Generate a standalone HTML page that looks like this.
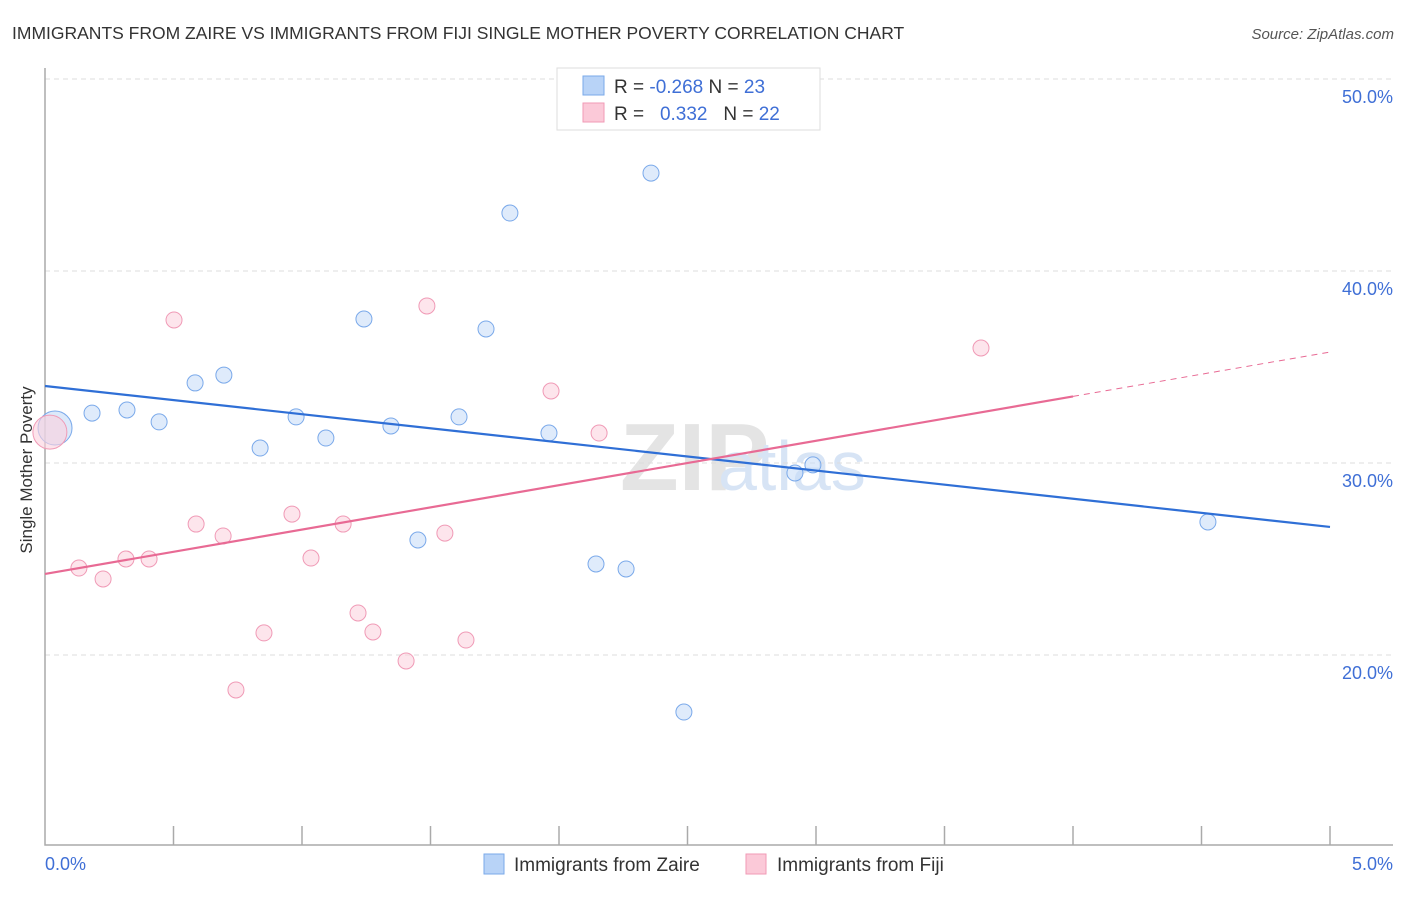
<!DOCTYPE html>
<html><head><meta charset="utf-8"><style>
body{margin:0;background:#fff;font-family:"Liberation Sans",sans-serif}
svg text{font-family:"Liberation Sans",sans-serif}
</style></head><body>
<svg id="c" width="1406" height="892" xmlns="http://www.w3.org/2000/svg">
<text x="12" y="39" font-size="17.5" fill="#333">IMMIGRANTS FROM ZAIRE VS IMMIGRANTS FROM FIJI SINGLE MOTHER POVERTY CORRELATION CHART</text>
<text x="1394" y="39" font-size="15" fill="#555" font-style="italic" text-anchor="end">Source: ZipAtlas.com</text>
<text x="620" y="490" font-size="96" fill="#e4e4e4" font-family="Liberation Serif" font-weight="bold">ZIP</text>
<text x="718" y="490" font-size="70" fill="#d7e4f5">atlas</text>
<g id="grid"></g><g id="axes"></g><g id="marks"></g>
<text x="17" y="455" font-size="17" fill="#333" transform="rotate(-90 32 455)" text-anchor="middle">Single Mother Poverty</text>
<text x="45" y="870" font-size="18" fill="#3f6fd6">0.0%</text>
<text x="1393" y="870" font-size="18" fill="#3f6fd6" text-anchor="end">5.0%</text>
<g>
<rect x="557" y="68" width="263" height="62" fill="#fff" stroke="#ddd"/>
<rect x="583" y="76" width="21" height="19" fill="#b8d3f7" stroke="#7aa9ea"/>
<rect x="583" y="103" width="21" height="19" fill="#fbc9d8" stroke="#f09ab6"/>
<text x="614" y="93" font-size="19" fill="#333">R = <tspan fill="#3f6fd6">-0.268</tspan>   N = <tspan fill="#3f6fd6">23</tspan></text>
<text x="614" y="120" font-size="19" fill="#333" xml:space="preserve">R =   <tspan fill="#3f6fd6">0.332</tspan>   N = <tspan fill="#3f6fd6">22</tspan></text>
</g>
<g>
<rect x="484" y="854" width="20" height="20" fill="#b8d3f7" stroke="#7aa9ea"/>
<text x="514" y="871" font-size="19" fill="#333">Immigrants from Zaire</text>
<rect x="746" y="854" width="20" height="20" fill="#fbc9d8" stroke="#f09ab6"/>
<text x="777" y="871" font-size="19" fill="#333">Immigrants from Fiji</text>
</g>
</svg>
<script>
const yTicks=[20,30,40,50];
const zaireX=[0.039,0.183,0.319,0.444,0.584,0.696,0.837,0.977,1.093,1.241,1.346,1.451,1.611,1.716,1.809,1.961,2.144,2.261,2.358,2.486,2.918,2.988,4.525];
const zaireY=[31.82,32.6,32.76,32.14,34.17,34.58,30.78,32.4,31.3,37.5,31.93,25.99,32.4,36.98,43.02,31.56,24.74,24.48,45.1,17.03,29.48,29.9,26.93];
const fijiX=[0.019,0.132,0.226,0.315,0.405,0.502,0.588,0.693,0.743,0.852,0.961,1.035,1.16,1.218,1.276,1.405,1.486,1.556,1.638,1.969,2.156,3.642];
const fijiY=[31.61,24.53,23.96,25.0,25.0,37.45,26.82,26.2,18.18,21.15,27.34,25.05,26.82,22.19,21.2,19.69,38.18,26.35,20.78,33.75,31.56,35.99];
const zaireTrend=[34.01,26.67];
const fijiTrend=[24.22,35.78];
const X=v=>45+v*257, Y=v=>79+(50-v)*19.2;
const NS='http://www.w3.org/2000/svg';
function mk(t,a,p){const e=document.createElementNS(NS,t);for(const k in a)e.setAttribute(k,a[k]);document.getElementById(p).appendChild(e);return e;}
yTicks.forEach(t=>{
 const l=mk('line',{x1:45,x2:1393,y1:Y(t),y2:Y(t),stroke:'#ddd','stroke-dasharray':'5,4'},'grid');
 
 
 const tx=mk('text',{x:1393,y:Y(t)+24,'font-size':18,fill:'#3f6fd6','text-anchor':'end'},'grid');
 tx.textContent=t.toFixed(1)+'%';
 
 
});
const ax=mk('path',{d:'M45 68V845H1393',fill:'none',stroke:'#aaa','stroke-width':1.5},'axes');


for(let i=1;i<=10;i++){const t=mk('line',{x1:X(i*0.5),x2:X(i*0.5),y1:826,y2:845,stroke:'#aaa','stroke-width':1.5},'axes');
 
 }
function pts(xs,ys,fill,stroke,name){xs.forEach((x,i)=>{const c=mk('circle',{cx:X(x),cy:Y(ys[i]),r:i==0?17:8,fill:fill,'fill-opacity':i==0?0.6:0.55,stroke:stroke,'stroke-width':1},'marks');
 
 });}
pts(zaireX,zaireY,'#c5dbf7','#7aa9ea','zaire-point');
pts(fijiX,fijiY,'#fbd0dd','#f09ab6','fiji-point');
const bl=mk('line',{x1:X(0),y1:Y(zaireTrend[0]),x2:X(5),y2:Y(zaireTrend[1]),stroke:'#2f6fd6','stroke-width':2.2},'marks');


const xe=4;const fy=fijiTrend[0]+(fijiTrend[1]-fijiTrend[0])*xe/5;
const pl=mk('line',{x1:X(0),y1:Y(fijiTrend[0]),x2:X(xe),y2:Y(fy),stroke:'#e86a94','stroke-width':2.2},'marks');


const pd=mk('line',{x1:X(xe),y1:Y(fy),x2:X(5),y2:Y(fijiTrend[1]),stroke:'#e86a94','stroke-width':1,'stroke-dasharray':'6,5'},'marks');


</script>
</body></html>
